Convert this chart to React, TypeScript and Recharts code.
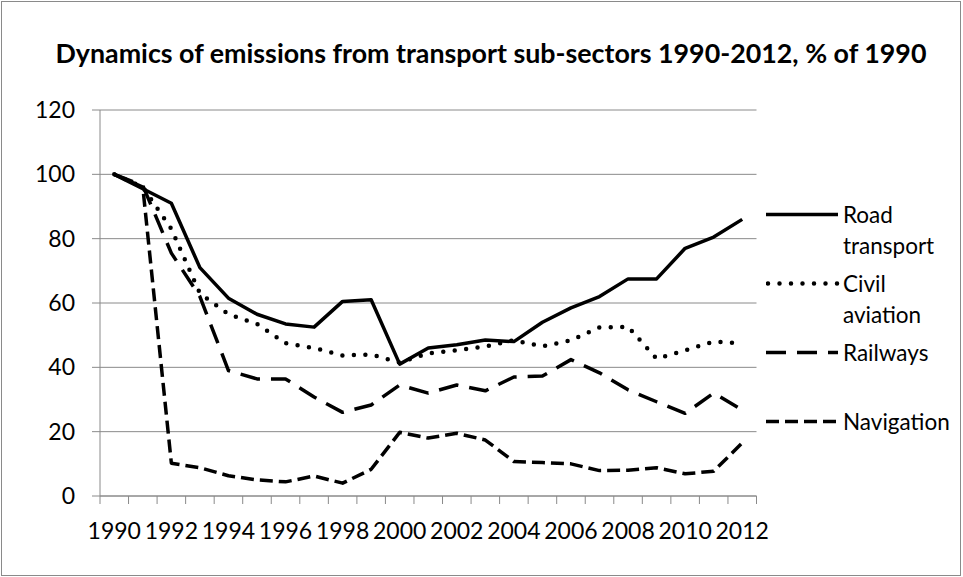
import React from 'react';
import { LineChart, Line, XAxis, YAxis, CartesianGrid, Legend } from 'recharts';

// Emissions by transport sub-sector, index 1990 = 100
const years = [1990, 1991, 1992, 1993, 1994, 1995, 1996, 1997, 1998, 1999, 2000, 2001, 2002, 2003, 2004, 2005, 2006, 2007, 2008, 2009, 2010, 2011, 2012];
const roadTransport = [100, 95.5, 91, 71, 61.5, 56.5, 53.5, 52.5, 60.5, 61, 41, 46, 47, 48.5, 48, 54, 58.5, 62, 67.5, 67.5, 77, 80.5, 86];
const civilAviation = [100, 96, 83, 63, 56.5, 53.5, 47.5, 46, 43.7, 44, 41.5, 44.3, 45.3, 46.5, 48.4, 46.5, 48.4, 52.4, 52.6, 42.7, 45.3, 48, 47.4];
const railways = [100, 96.5, 75.5, 62, 39, 36.4, 36.4, 30.8, 26, 28.3, 34.5, 32, 34.5, 32.7, 37, 37.3, 42.4, 38.3, 33, 29.3, 25.7, 32, 26.7];
const navigation = [100, 96, 10.2, 8.8, 6.3, 5, 4.4, 6.2, 4, 8.3, 19.8, 18, 19.5, 17.4, 10.7, 10.4, 10, 7.9, 8, 8.8, 6.9, 7.7, 16.5];
const yTicks = [0, 20, 40, 60, 80, 100, 120];

const TITLE = 'Dynamics of emissions from transport sub-sectors 1990-2012, % of 1990';
const FONT = 'Lato, "Open Sans", sans-serif';
const AXIS_GRAY = '#8a8a8a';
const INK = '#000000';

type Series = { key: string; name: string; values: number[]; dash?: string; cap: 'butt' | 'round'; width: number };

const series: Series[] = [
  { key: 'road', name: 'Road transport', values: roadTransport, cap: 'butt', width: 3.5 },
  { key: 'civil', name: 'Civil aviation', values: civilAviation, dash: '0 11.5', cap: 'round', width: 4.5 },
  { key: 'rail', name: 'Railways', values: railways, dash: '20 11', cap: 'butt', width: 3.5 },
  { key: 'nav', name: 'Navigation', values: navigation, dash: '13 6', cap: 'butt', width: 3.5 },
];

// Categories sit between tick marks: category i is centred at i + 0.5
const data = years.map((year, i) => {
  const row: Record<string, number> = { year, pos: i + 0.5 };
  series.forEach((s) => {
    row[s.key] = s.values[i];
  });
  return row;
});

const xTicks: number[] = [];
for (let i = 0; i <= years.length * 2; i++) xTicks.push(i / 2);

// Integer ticks draw the boundary tick marks, half ticks carry the year labels (every second year)
const YearTick = (props: any) => {
  const { x, y, payload } = props;
  const v: number = payload.value;
  if (Number.isInteger(v)) {
    return <line x1={x} x2={x} y1={y - 8} y2={y} stroke={AXIS_GRAY} strokeWidth={1} />;
  }
  const idx = v - 0.5;
  if (idx % 2 !== 0 || idx >= years.length) return <g />;
  return (
    <text x={x} y={y + 35} textAnchor="middle" fill={INK} fontSize={23} fontFamily={FONT}>
      {years[idx]}
    </text>
  );
};

const LegendBox = () => (
  <div style={{ fontFamily: FONT, fontSize: 22.5, lineHeight: '31px', color: INK }}>
    {series.map((s) => (
      <div key={s.key} style={{ height: 69, display: 'flex', alignItems: 'flex-start' }}>
        <svg width={77} height={31} style={{ marginLeft: 4, flex: 'none' }}>
          <line
            x1={s.cap === 'round' ? 2 : 0}
            x2={72}
            y1={15.5}
            y2={15.5}
            stroke={INK}
            strokeWidth={s.width}
            strokeDasharray={s.dash}
            strokeLinecap={s.cap}
          />
        </svg>
        <div>
          {s.name.split(' ').map((w) => (
            <div key={w}>{w}</div>
          ))}
        </div>
      </div>
    ))}
  </div>
);

export default function App() {
  return (
    <div style={{ position: 'fixed', left: 0, top: 0, width: 963, height: 577, background: '#ffffff' }}>
      <div
        style={{
          position: 'absolute',
          left: 1,
          top: 1,
          width: 960,
          height: 575,
          boxSizing: 'border-box',
          border: `1px solid ${AXIS_GRAY}`,
        }}
      />
      <svg width={963} height={90} style={{ position: 'absolute', left: 0, top: 0 }}>
        <text x={491} y={62.5} textAnchor="middle" fontFamily={FONT} fontWeight={700} fontSize={26.8} fill={INK}>
          {TITLE}
        </text>
      </svg>
      <div style={{ position: 'absolute', left: 0, top: 0 }}>
        <LineChart width={963} height={577} data={data} margin={{ top: 110, right: 206.5, bottom: 21, left: 0 }}>
          <CartesianGrid vertical={false} stroke={AXIS_GRAY} strokeWidth={1} />
          <XAxis
            type="number"
            dataKey="pos"
            domain={[0, years.length]}
            ticks={xTicks}
            interval={0}
            height={60}
            axisLine={{ stroke: AXIS_GRAY, strokeWidth: 1 }}
            tickLine={false}
            tickSize={8}
            tickMargin={0}
            tick={<YearTick />}
          />
          <YAxis
            type="number"
            domain={[0, 120]}
            ticks={yTicks}
            interval={0}
            width={100}
            axisLine={{ stroke: AXIS_GRAY, strokeWidth: 1 }}
            tickLine={{ stroke: AXIS_GRAY, strokeWidth: 1 }}
            tickSize={8}
            tickMargin={17}
            tick={{ fill: INK, fontSize: 23, fontFamily: FONT }}
          />
          {series.map((s) => (
            <Line
              key={s.key}
              type="linear"
              dataKey={s.key}
              name={s.name}
              stroke={INK}
              strokeWidth={s.width}
              strokeDasharray={s.dash}
              strokeLinecap={s.cap}
              strokeLinejoin="round"
              dot={false}
              activeDot={false}
              isAnimationActive={false}
            />
          ))}
          <Legend
            layout="vertical"
            align="center"
            verticalAlign="middle"
            wrapperStyle={{ left: 762, top: 199, width: 200 }}
            content={<LegendBox />}
          />
        </LineChart>
      </div>
    </div>
  );
}
